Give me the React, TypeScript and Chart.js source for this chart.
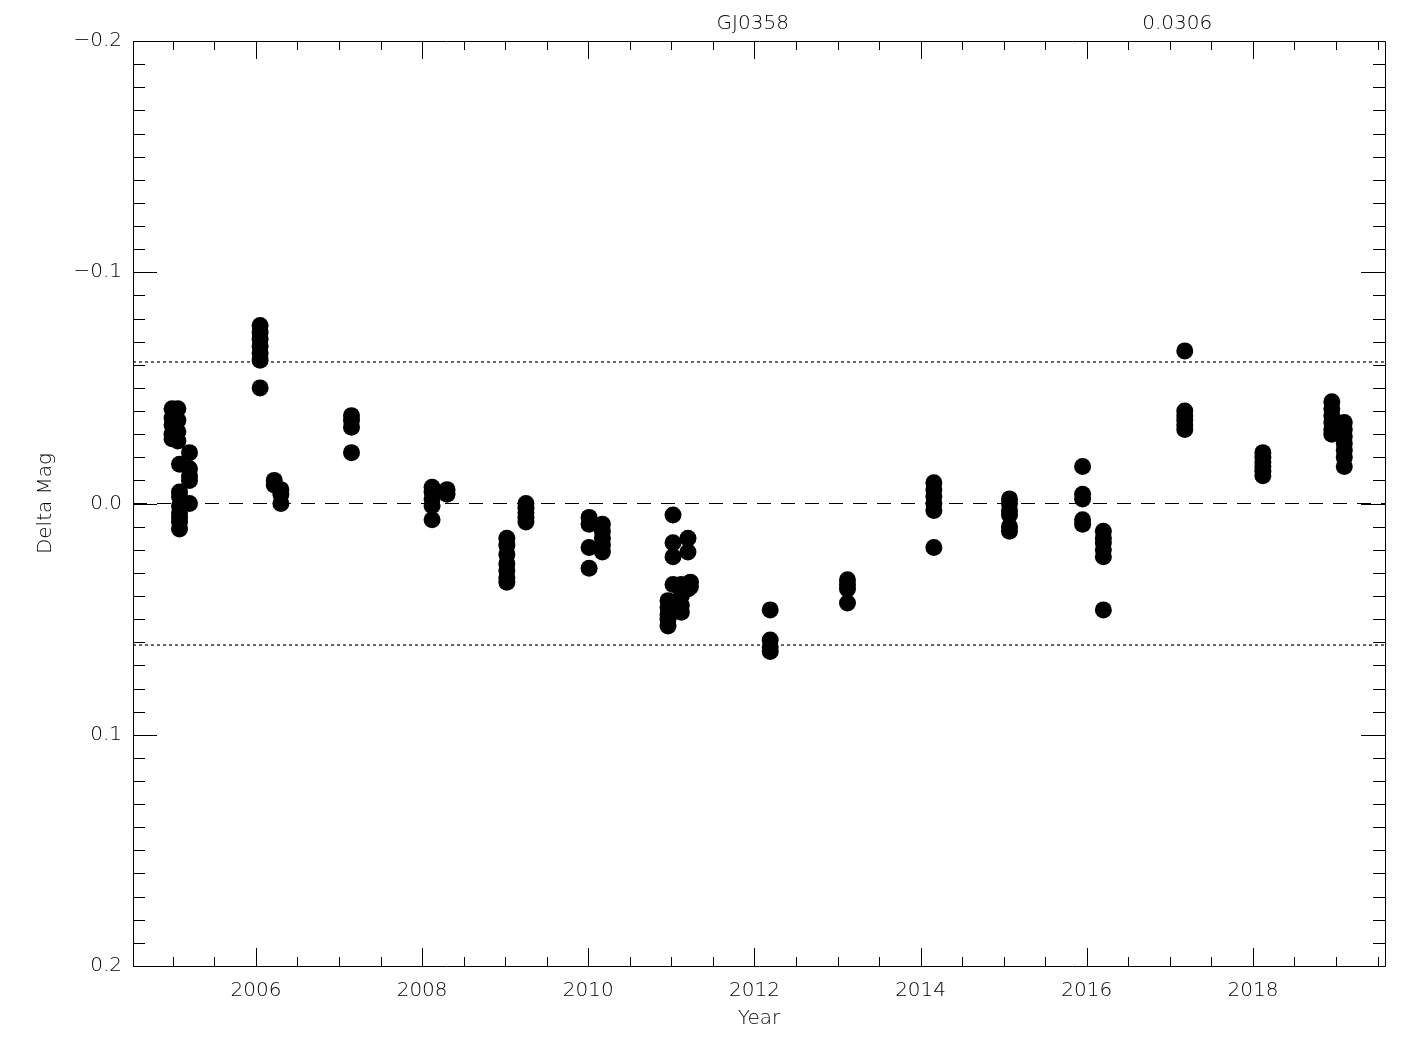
import React, { useEffect, useRef } from "react";
import { Chart, registerables } from "chart.js";

Chart.register(...registerables);

// Observation epochs (decimal year) and delta magnitudes, paired by index
const obsYear: number[] = [
  2004.99, 2004.99, 2004.99, 2004.99, 2004.99,
  2005.06, 2005.06, 2005.06, 2005.06,
  2005.08, 2005.08, 2005.08, 2005.08, 2005.08, 2005.08, 2005.08, 2005.08,
  2005.2, 2005.2, 2005.2, 2005.2, 2005.2,
  2006.05, 2006.05, 2006.05, 2006.05, 2006.05, 2006.05, 2006.05,
  2006.22, 2006.22, 2006.3, 2006.3, 2006.3,
  2007.15, 2007.15, 2007.15, 2007.15,
  2008.12, 2008.12, 2008.12, 2008.12, 2008.12, 2008.3, 2008.3,
  2009.02, 2009.02, 2009.02, 2009.02, 2009.02, 2009.02, 2009.02,
  2009.25, 2009.25, 2009.25, 2009.25, 2009.25,
  2010.01, 2010.01, 2010.01, 2010.01,
  2010.17, 2010.17, 2010.17, 2010.17, 2010.17,
  2010.96, 2010.96, 2010.96, 2010.96, 2010.96,
  2011.02, 2011.02, 2011.02, 2011.02,
  2011.12, 2011.12, 2011.12, 2011.12,
  2011.2, 2011.2, 2011.2, 2011.23, 2011.23,
  2012.19, 2012.19, 2012.19, 2012.19,
  2013.12, 2013.12, 2013.12, 2013.12,
  2014.16, 2014.16, 2014.16, 2014.16, 2014.16, 2014.16,
  2015.07, 2015.07, 2015.07, 2015.07, 2015.07, 2015.07,
  2015.95, 2015.95, 2015.95, 2015.95, 2015.95,
  2016.2, 2016.2, 2016.2, 2016.2, 2016.2, 2016.2,
  2017.18, 2017.18, 2017.18, 2017.18, 2017.18, 2017.18,
  2018.12, 2018.12, 2018.12, 2018.12, 2018.12, 2018.12,
  2018.95, 2018.95, 2018.95, 2018.95, 2018.95, 2018.95,
  2019.1, 2019.1, 2019.1, 2019.1, 2019.1, 2019.1, 2019.1,
];

const obsMag: number[] = [
  -0.041, -0.037, -0.034, -0.03, -0.028,
  -0.041, -0.036, -0.031, -0.027,
  -0.017, -0.005, -0.003, 0.001, 0.004, 0.006, 0.008, 0.011,
  -0.022, -0.015, -0.012, -0.01, 0.0,
  -0.077, -0.074, -0.071, -0.068, -0.065, -0.062, -0.05,
  -0.01, -0.008, -0.006, -0.004, 0.0,
  -0.038, -0.036, -0.033, -0.022,
  -0.007, -0.005, -0.002, 0.001, 0.007, -0.006, -0.004,
  0.015, 0.018, 0.022, 0.026, 0.029, 0.032, 0.034,
  0.0, 0.002, 0.004, 0.006, 0.008,
  0.006, 0.009, 0.019, 0.028,
  0.009, 0.012, 0.015, 0.018, 0.021,
  0.042, 0.045, 0.048, 0.05, 0.053,
  0.005, 0.017, 0.023, 0.035,
  0.035, 0.04, 0.044, 0.047,
  0.015, 0.021, 0.037, 0.034, 0.036,
  0.046, 0.059, 0.062, 0.064,
  0.033, 0.035, 0.037, 0.043,
  -0.009, -0.006, -0.003, 0.0, 0.003, 0.019,
  -0.002, 0.0, 0.003, 0.005, 0.01, 0.012,
  -0.016, -0.004, -0.002, 0.007, 0.009,
  0.012, 0.015, 0.017, 0.02, 0.023, 0.046,
  -0.066, -0.04, -0.038, -0.036, -0.034, -0.032,
  -0.022, -0.02, -0.018, -0.016, -0.014, -0.012,
  -0.044, -0.041, -0.038, -0.035, -0.032, -0.03,
  -0.035, -0.032, -0.029, -0.026, -0.023, -0.02, -0.016,
];

const starName = "GJ0358";
const sigmaValue = 0.0306;
const xRange = [2004.52, 2019.59];
const yRange = [-0.2, 0.2];
const xLabel = "Year";
const yLabel = "Delta Mag";

const FONT = '"DejaVu Sans", "Liberation Sans", sans-serif';
const WEIGHT = 200;

function isMultiple(v: number, step: number) {
  return Math.abs(v / step - Math.round(v / step)) < 1e-6;
}

const framePlugin = {
  id: "idlFrame",
  afterDraw(chart: any) {
    const { ctx, chartArea } = chart;
    const { left, right, top, bottom } = chartArea;
    const xs = chart.scales.x;
    const ys = chart.scales.y;
    ctx.save();
    ctx.strokeStyle = "#000";
    ctx.lineWidth = 1;
    ctx.beginPath();
    ctx.rect(Math.round(left) + 0.5, Math.round(top) + 0.5, Math.round(right - left), Math.round(bottom - top));
    ctx.stroke();
    ctx.beginPath();
    for (const t of xs.ticks) {
      const px = Math.round(xs.getPixelForValue(t.value)) + 0.5;
      const len = isMultiple(t.value, 2) ? 18 : 9;
      ctx.moveTo(px, bottom);
      ctx.lineTo(px, bottom - len);
      ctx.moveTo(px, top);
      ctx.lineTo(px, top + len);
    }
    for (const t of ys.ticks) {
      const py = Math.round(ys.getPixelForValue(t.value)) + 0.5;
      const len = isMultiple(t.value, 0.1) ? 24 : 12;
      ctx.moveTo(left, py);
      ctx.lineTo(left + len, py);
      ctx.moveTo(right, py);
      ctx.lineTo(right - len, py);
    }
    ctx.stroke();

    ctx.fillStyle = "#000";
    ctx.font = WEIGHT + " 20px " + FONT;
    ctx.textAlign = "center";
    ctx.textBaseline = "middle";
    const w = right - left;
    ctx.fillText(starName, left + w * 0.495, top - 17);
    ctx.fillText(sigmaValue.toFixed(4), left + w * 0.834, top - 17);
    ctx.fillText(xLabel, (left + right) / 2, bottom + 53);
    ctx.save();
    ctx.translate(46, (top + bottom) / 2);
    ctx.rotate(-Math.PI / 2);
    ctx.fillText(yLabel, 0, 0);
    ctx.restore();
    ctx.restore();
  },
};

export default function App() {
  const canvasRef = useRef<HTMLCanvasElement | null>(null);

  useEffect(() => {
    if (!canvasRef.current) return;
    const points = obsYear.map((x, i) => ({ x, y: obsMag[i] }));
    const hline = (v: number) => [
      { x: xRange[0], y: v },
      { x: xRange[1], y: v },
    ];
    const chart = new Chart(canvasRef.current, {
      type: "scatter",
      data: {
        datasets: [
          {
            type: "line",
            data: hline(0),
            borderColor: "#000",
            borderWidth: 1,
            borderDash: [14, 10],
            pointRadius: 0,
            fill: false,
          } as any,
          {
            type: "line",
            data: hline(-2 * sigmaValue),
            borderColor: "#000",
            borderWidth: 1.2,
            borderDash: [3, 3],
            pointRadius: 0,
            fill: false,
          } as any,
          {
            type: "line",
            data: hline(2 * sigmaValue),
            borderColor: "#000",
            borderWidth: 1.2,
            borderDash: [3, 3],
            pointRadius: 0,
            fill: false,
          } as any,
          {
            data: points,
            backgroundColor: "#000",
            borderWidth: 0,
            pointRadius: 8.5,
            pointHoverRadius: 8.5,
          },
        ],
      },
      options: {
        responsive: false,
        animation: false,
        events: [],
        layout: { padding: { left: 0, right: 40, top: 41, bottom: 0 } },
        plugins: { legend: { display: false }, tooltip: { enabled: false }, title: { display: false } },
        scales: {
          x: {
            type: "linear",
            min: xRange[0],
            max: xRange[1],
            grid: { display: false, drawTicks: false },
            border: { display: false },
            afterFit: (s: any) => {
              s.height = 84;
            },
            ticks: {
              stepSize: 0.5,
              includeBounds: false,
              autoSkip: false,
              maxRotation: 0,
              padding: 13,
              color: "#000",
              font: { family: FONT, size: 20, weight: WEIGHT },
              callback: (v: any) => (isMultiple(Number(v), 2) ? String(Math.round(Number(v))) : ""),
            },
          },
          y: {
            type: "linear",
            reverse: true,
            min: yRange[0],
            max: yRange[1],
            grid: { display: false, drawTicks: false },
            border: { display: false },
            afterFit: (s: any) => {
              s.width = 133;
            },
            ticks: {
              stepSize: 0.01,
              autoSkip: false,
              padding: 11,
              color: "#000",
              font: { family: FONT, size: 20, weight: WEIGHT },
              callback: (v: any) => {
                const n = Number(v);
                if (!isMultiple(n, 0.1)) return "";
                const s = Math.abs(n).toFixed(1);
                return n < -1e-9 ? "\u2212" + s : s;
              },
            },
          },
        },
      },
      plugins: [framePlugin],
    } as any);
    return () => chart.destroy();
  }, []);

  return (
    <div style={{ position: "absolute", left: 0, top: 0, width: 1425, height: 1050, background: "#fff" }}>
      <canvas ref={canvasRef} width={1425} height={1050} style={{ display: "block" }} />
    </div>
  );
}
